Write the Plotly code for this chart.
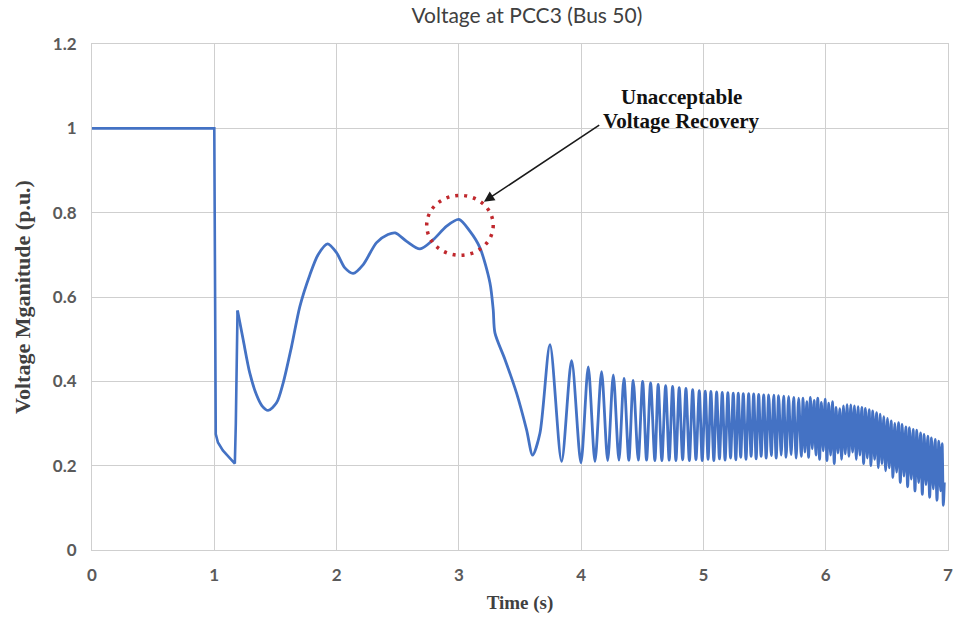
import plotly.graph_objects as go

# ---------------- data ----------------
time_s = [
    0.000, 1.000, 1.012, 1.030, 1.070, 1.120, 1.168, 1.176, 1.190,
    1.236, 1.290, 1.345, 1.390, 1.440, 1.509, 1.563, 1.632, 1.700, 1.782, 1.850,
    1.926, 2.000, 2.068, 2.136, 2.218, 2.327, 2.420, 2.480, 2.573, 2.682,
    2.791, 2.900, 3.000, 3.090, 3.172, 3.254, 3.281, 3.295, 3.377, 3.472,
    3.554, 3.603, 3.663, 3.745, 3.840, 3.922, 3.998, 4.058, 4.113, 4.167,
    4.217, 4.263, 4.309, 4.350, 4.390, 4.426, 4.467, 4.503, 4.535, 4.568,
    4.603, 4.630, 4.660, 4.691, 4.720, 4.748, 4.775, 4.802, 4.830, 4.857,
    4.885, 4.912, 4.939, 4.966, 4.990, 5.015, 5.038, 5.061, 5.085, 5.108,
    5.131, 5.154, 5.177, 5.200, 5.222, 5.244, 5.265, 5.285, 5.305, 5.326,
    5.348, 5.370, 5.390, 5.411, 5.431, 5.452, 5.472, 5.493, 5.513, 5.534,
    5.555, 5.575, 5.595, 5.615, 5.636, 5.656, 5.676, 5.697, 5.717, 5.738,
    5.758, 5.779, 5.800,
    5.815, 5.830, 5.845, 5.860, 5.875, 5.890, 5.905, 5.920, 5.935, 5.950,
    5.965, 5.980, 5.995, 6.010, 6.025, 6.040, 6.055, 6.070, 6.085, 6.100,
    6.115, 6.130, 6.145, 6.160, 6.175, 6.190, 6.205, 6.220, 6.235, 6.250,
    6.265, 6.280, 6.295, 6.310, 6.325, 6.340, 6.355, 6.370, 6.385, 6.400,
    6.415, 6.430, 6.445, 6.460, 6.475, 6.490, 6.505, 6.520, 6.535, 6.550,
    6.565, 6.580, 6.595, 6.610, 6.625, 6.640, 6.655, 6.670, 6.685, 6.700,
    6.715, 6.730, 6.745, 6.760, 6.775, 6.790, 6.805, 6.820, 6.835, 6.850,
    6.865, 6.880, 6.895, 6.910, 6.925, 6.940, 6.952, 6.962, 6.970,
]
voltage_pu = [
    1.000, 1.000, 0.275, 0.255, 0.236, 0.220, 0.205, 0.300, 0.568,
    0.499, 0.420, 0.368, 0.342, 0.331, 0.349, 0.396, 0.483, 0.578, 0.653, 0.701,
    0.726, 0.705, 0.669, 0.656, 0.677, 0.729, 0.748, 0.752, 0.732, 0.714,
    0.736, 0.768, 0.784, 0.756, 0.717, 0.634, 0.570, 0.515, 0.452, 0.372,
    0.285, 0.225, 0.277, 0.487, 0.210, 0.449, 0.207, 0.434, 0.210, 0.423,
    0.212, 0.415, 0.213, 0.407, 0.213, 0.402, 0.213, 0.400, 0.213, 0.396,
    0.212, 0.393, 0.212, 0.390, 0.213, 0.388, 0.212, 0.385, 0.214, 0.383,
    0.212, 0.380, 0.214, 0.378, 0.212, 0.377, 0.215, 0.376, 0.212, 0.375,
    0.216, 0.374, 0.213, 0.373, 0.218, 0.372, 0.214, 0.372, 0.220, 0.371,
    0.215, 0.371, 0.222, 0.370, 0.216, 0.369, 0.222, 0.368, 0.218, 0.368,
    0.224, 0.367, 0.218, 0.366, 0.225, 0.365, 0.220, 0.364, 0.226, 0.362,
    0.218, 0.360, 0.222,
    0.360, 0.232, 0.352, 0.220, 0.362, 0.240, 0.355, 0.225, 0.360, 0.215,
    0.350, 0.235, 0.358, 0.212, 0.348, 0.225, 0.352, 0.205, 0.338, 0.230,
    0.335, 0.215, 0.342, 0.228, 0.345, 0.222, 0.344, 0.232, 0.342, 0.215,
    0.340, 0.225, 0.338, 0.205, 0.336, 0.218, 0.333, 0.200, 0.330, 0.215,
    0.326, 0.195, 0.322, 0.205, 0.316, 0.188, 0.312, 0.195, 0.306, 0.172,
    0.300, 0.185, 0.302, 0.160, 0.298, 0.175, 0.292, 0.150, 0.290, 0.168,
    0.286, 0.140, 0.284, 0.160, 0.278, 0.132, 0.274, 0.155, 0.270, 0.125,
    0.266, 0.145, 0.262, 0.118, 0.258, 0.140, 0.252, 0.106, 0.160,
]
STEP_END = 8   # last index of the fault-step portion (straight segments)

x_ticks = [0, 1, 2, 3, 4, 5, 6, 7]
y_ticks = [0, 0.2, 0.4, 0.6, 0.8, 1.0, 1.2]

title_text = "Voltage at PCC3 (Bus 50)"
x_title = "Time (s)"
y_title = "Voltage Mganitude (p.u.)"
note_lines = ["Unacceptable", "Voltage Recovery"]

# circle / arrow / note anchors (data units)
circle_box = [2.737, 0.699, 3.281, 0.841]
arrow_head = [3.205, 0.826]
arrow_tail = [4.16, 1.010]
note_x = 4.82
note_y = [1.075, 1.018]

# ---------------- figure ----------------
LINE = "#4472C4"
GRID = "#CFCFCF"
TICK_FONT = dict(family="Lato", size=17, color="#5a5a5a", weight="bold")

fig = go.Figure()
fig.add_trace(go.Scatter(
    x=time_s[:STEP_END + 1], y=voltage_pu[:STEP_END + 1],
    mode="lines", line=dict(color=LINE, width=2.6, shape="linear"),
    showlegend=False, hoverinfo="skip"))
fig.add_trace(go.Scatter(
    x=time_s[STEP_END:], y=voltage_pu[STEP_END:],
    mode="lines", line=dict(color=LINE, width=2.8, shape="spline", smoothing=0.8),
    showlegend=False, hoverinfo="skip"))

fig.add_shape(type="circle", xref="x", yref="y",
              x0=circle_box[0], y0=circle_box[1], x1=circle_box[2], y1=circle_box[3],
              line=dict(color="#C0282D", width=3.5, dash="3px,6px"))

fig.add_annotation(x=arrow_head[0], y=arrow_head[1], ax=arrow_tail[0], ay=arrow_tail[1],
                   xref="x", yref="y", axref="x", ayref="y", text="",
                   showarrow=True, arrowhead=2, arrowsize=1.3, arrowwidth=1.6,
                   arrowcolor="#1a1a1a")
for line_text, ly in zip(note_lines, note_y):
    fig.add_annotation(x=note_x, y=ly, xref="x", yref="y", text=line_text,
                       showarrow=False, xanchor="center", yanchor="middle",
                       font=dict(family="Liberation Serif", size=21, color="#111111",
                                 weight="bold"))

fig.update_layout(
    width=956, height=617,
    margin=dict(l=92, r=8, t=44, b=67, autoexpand=False),
    paper_bgcolor="white", plot_bgcolor="white",
    title=dict(text=title_text, x=0.508, xref="paper", xanchor="center",
               y=0.974, yref="container", yanchor="middle",
               font=dict(family="Lato", size=21, color="#404040")),
    xaxis=dict(range=[-0.0001, 7.0001], tickvals=x_ticks, showgrid=True, gridcolor=GRID,
               gridwidth=1, showline=True, linecolor=GRID, linewidth=1, mirror=True,
               zeroline=False, ticks="", ticklabelstandoff=10, automargin=False,
               ticklabeloverflow="allow", tickfont=TICK_FONT,
               title=dict(text=x_title, standoff=11,
                          font=dict(family="Liberation Serif", size=19, color="#404040",
                                    weight="bold"))),
    yaxis=dict(range=[0, 1.2], tickvals=y_ticks, showgrid=True, gridcolor=GRID, gridwidth=1,
               showline=True, linecolor=GRID, linewidth=1, mirror=True, zeroline=False,
               ticks="", ticklabelstandoff=11, automargin=False,
               ticklabeloverflow="allow", tickfont=TICK_FONT,
               title=dict(text=y_title, standoff=16,
                          font=dict(family="Liberation Serif", size=22, color="#404040",
                                    weight="bold"))),
)

# the page body has a default 8px margin; remove it so the figure fills the window
fig.write_html("out.html", config={"displayModeBar": False},
               post_script="document.body.style.margin='0px';")
